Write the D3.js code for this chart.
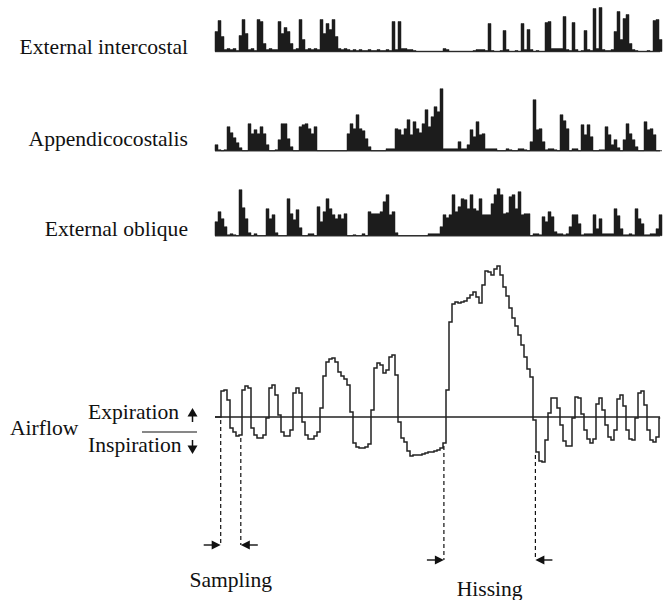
<!DOCTYPE html>
<html><head><meta charset="utf-8">
<script src="https://cdn.jsdelivr.net/npm/d3@7"></script>
<style>body{margin:0;background:#fff}</style>
</head><body><svg id="c" width="668" height="600"></svg>
<script>
// EMG amplitudes (arbitrary units, one value per sample)
const externalIntercostal = [
20,31,15,2,3,2,3,1,16,32,
18,2,3,1,32,30,8,2,3,2,
2,30,18,24,20,8,2,3,32,12,
2,3,2,3,2,32,18,28,22,32,
15,3,2,3,2,1,2,1,2,1,
1,2,1,1,2,1,1,2,1,30,
2,30,3,3,2,2,1,0,0,0,
0,0,0,0,0,0,3,2,0,0,
0,0,0,0,0,0,1,2,2,2,
1,28,1,0,0,1,21,2,0,0,
1,0,28,2,22,2,0,1,0,0,
29,30,3,3,3,3,35,2,1,29,
2,0,1,21,2,1,43,3,44,2,
1,1,2,20,40,12,33,37,8,2,
1,0,0,0,1,0,31,32,12];
const appendicocostalis = [
6,1,0,1,24,18,13,8,3,0,
0,27,17,21,17,24,17,6,0,0,
1,11,27,27,12,4,0,0,24,26,
27,22,17,24,0,0,0,0,0,0,
0,0,0,0,17,27,22,36,22,20,
12,4,0,0,0,0,0,2,2,2,
22,21,16,22,31,16,29,22,18,27,
41,24,34,44,39,62,2,2,2,2,
2,9,2,2,6,21,14,29,16,17,
2,2,2,2,0,0,0,2,1,0,
0,2,2,1,0,9,51,21,22,9,
1,2,2,1,0,36,30,22,0,2,
2,0,26,16,26,14,0,0,1,1,
24,16,6,11,3,0,11,27,17,11,
4,0,0,29,21,22,16,0,0];
const externalOblique = [
14,24,17,9,1,2,1,0,46,28,
17,3,0,2,0,0,0,27,17,21,
3,0,0,0,37,22,16,26,8,0,
0,2,2,0,29,14,24,37,27,21,
17,21,17,22,0,0,1,0,0,2,
0,24,22,22,22,24,34,41,21,24,
3,0,0,0,0,0,0,0,0,0,
0,2,2,2,2,9,21,18,21,41,
24,29,37,36,27,41,27,25,37,21,
21,21,32,41,47,41,22,23,39,41,
27,44,21,22,22,0,2,2,1,19,
14,24,19,4,2,2,1,2,9,21,
21,12,1,2,2,2,21,7,17,2,
2,2,2,27,20,7,1,1,2,1,
27,17,12,1,1,2,2,7,21];
// Airflow (expiration positive, inspiration negative)
const airflow = [
0,0,2.6,2.7,1.7,-1.1,-1.5,-1.9,-1.8,2.7,
3.1,2.9,-1.1,-1.8,-2.1,-2.1,-1.8,-0.1,2.9,3.2,
2.2,0.2,-1.5,-1.9,-1.9,-1.3,2.4,2.9,2.4,-0.5,
-1.8,-2.2,-2.2,-1.9,-1.5,0.9,4.1,5.5,5.8,5.9,
5.5,4.5,4.1,3.8,3.2,0.5,-2.6,-3.0,-3.1,-3.1,
-3.0,-2.7,0.7,4.9,5.4,5.2,4.4,4.7,6.0,6.2,
4.2,-0.5,-2.1,-2.5,-3.4,-3.9,-3.8,-3.8,-3.8,-3.7,
-3.6,-3.5,-3.5,-3.4,-3.3,-3.1,-2.6,2.7,9.5,11.3,
11.5,11.4,11.5,11.6,11.9,12.2,12.5,12.0,11.4,13.2,
14.6,14.5,14.2,14.8,15.1,14.2,13.0,12.1,10.9,9.9,
9.1,8.2,7.2,6.0,4.8,4.0,-0.3,-3.5,-4.4,-4.5,
-2.3,0.4,1.9,1.9,0.9,-0.8,-2.4,-2.9,-2.9,-0.1,
2.0,1.9,0.3,-1.3,-2.2,-2.6,-2.2,1.3,1.9,0.7,
-0.8,-2.0,-2.3,-1.3,1.8,2.2,1.1,-1.3,-2.2,-2.3,
-0.1,2.4,2.6,1.2,-1.3,-2.3,-2.5,-2.0,-0.1];
const traceNames = ["External intercostal", "Appendicocostalis", "External oblique"];
const samplingWindow = [1.9, 8.6];
const hissingWindow = [76.3, 106.8];
const eventLabels = ["Sampling", "Hissing"];

const svg = d3.select("#c");
const N = airflow.length;
const x = d3.scaleLinear().domain([0, N]).range([215, 215 + 3 * N]);
const FONT = "'Liberation Serif','Times New Roman',serif";

function label(txt, px, py, anchor) {
  svg.append("text")
    .attr("transform", `translate(${px},${py}) scale(1.08,1)`)
    .attr("text-anchor", anchor)
    .attr("font-family", FONT).attr("font-size", 20).attr("fill", "#111")
    .text(txt);
}

const emg = [
  {name: traceNames[0], data: externalIntercostal, base: 51.5, ly: 54},
  {name: traceNames[1], data: appendicocostalis, base: 150.7, ly: 146},
  {name: traceNames[2], data: externalOblique, base: 235.7, ly: 236}
];

emg.forEach(t => {
  const y = d3.scaleLinear().domain([0, 50]).range([t.base, t.base - 50]);
  const pts = t.data.map((v, i) => [i, v]).concat([[t.data.length, t.data[t.data.length - 1]]]);
  svg.append("line").attr("x1", x(0)).attr("x2", 660).attr("y1", t.base).attr("y2", t.base)
    .attr("stroke", "#555").attr("stroke-width", 1.4);
  svg.append("path").datum(pts)
    .attr("d", d3.area().x(d => x(d[0])).y0(t.base).y1(d => y(d[1])).curve(d3.curveStepAfter))
    .attr("fill", "#1c1c1c").attr("stroke", "#1c1c1c").attr("stroke-width", 0.5);
  label(t.name, 188, t.ly, "end");
});

// Airflow
const ya = d3.scaleLinear().domain([-5, 16]).range([467, 257]);
svg.append("line").attr("x1", x(0)).attr("x2", 660).attr("y1", ya(0)).attr("y2", ya(0))
  .attr("stroke", "#222").attr("stroke-width", 1.5);
const apts = airflow.map((v, i) => [i, v]).concat([[N - 0.6, airflow[N - 1]]]);
svg.append("path").datum(apts)
  .attr("d", d3.line().x(d => x(d[0])).y(d => ya(d[1])).curve(d3.curveStepAfter))
  .attr("fill", "none").attr("stroke", "#222").attr("stroke-width", 1.5);

label("Airflow", 10, 435, "start");
label("Expiration", 88, 419, "start");
label("Inspiration", 88, 451.5, "start");
svg.append("line").attr("x1", 142).attr("x2", 197).attr("y1", 432).attr("y2", 432)
  .attr("stroke", "#111").attr("stroke-width", 1.2);
// up / down arrows
svg.append("line").attr("x1", 192.5).attr("x2", 192.5).attr("y1", 422).attr("y2", 414).attr("stroke", "#111").attr("stroke-width", 1.5);
svg.append("path").attr("d", "M187.5,416.5L197.5,416.5L192.5,408Z").attr("fill", "#111");
svg.append("line").attr("x1", 192.5).attr("x2", 192.5).attr("y1", 440).attr("y2", 447).attr("stroke", "#111").attr("stroke-width", 1.5);
svg.append("path").attr("d", "M187.5,445.5L197.5,445.5L192.5,454Z").attr("fill", "#111");

// event markers
function marker(win, yArrow, labelTxt, labelY) {
  win.forEach((t, k) => {
    const v = Math.min(airflow[Math.floor(t)], airflow[Math.ceil(t)]);
    const px = x(t);
    svg.append("line").attr("x1", px).attr("x2", px).attr("y1", ya(v) + 3).attr("y2", yArrow)
      .attr("stroke", "#111").attr("stroke-width", 1.2).attr("stroke-dasharray", "4,3");
    const dir = k === 0 ? -1 : 1; // side the arrow comes from
    svg.append("line").attr("x1", px + dir * 17).attr("x2", px + dir * 7).attr("y1", yArrow).attr("y2", yArrow)
      .attr("stroke", "#111").attr("stroke-width", 1.4);
    svg.append("path").attr("d", `M${px},${yArrow}L${px + dir * 9},${yArrow - 4.5}L${px + dir * 9},${yArrow + 4.5}Z`)
      .attr("fill", "#111");
  });
  label(labelTxt, (x(win[0]) + x(win[1])) / 2, labelY, "middle");
}
marker(samplingWindow, 545, eventLabels[0], 587);
marker(hissingWindow, 560, eventLabels[1], 596);
</script></body></html>
